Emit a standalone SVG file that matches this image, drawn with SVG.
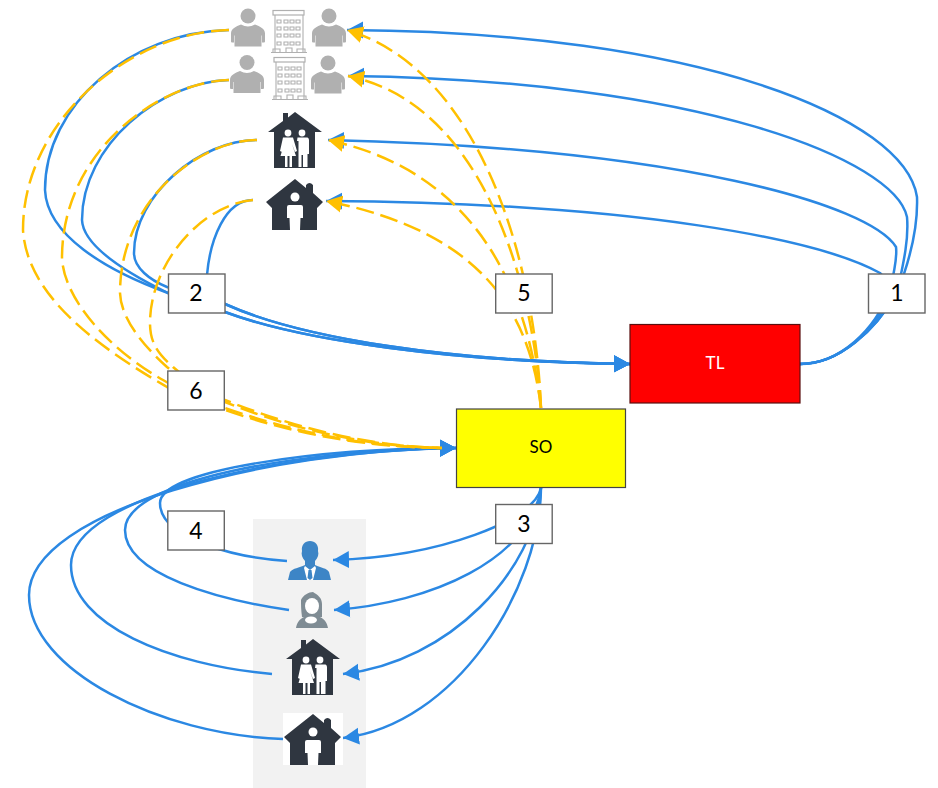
<svg xmlns="http://www.w3.org/2000/svg" width="938" height="788" viewBox="0 0 938 788">
<style>
.b{fill:none;stroke:#2b88e3;stroke-width:2.5}
.g{fill:none;stroke:#ffc000;stroke-width:2.5;stroke-dasharray:18 7}
.box{fill:#fff;stroke:#666;stroke-width:1.4}
.num{font:23px Lato,"Liberation Sans",sans-serif;fill:#000;text-anchor:middle}
.lbl{font:17px Lato,"Liberation Sans",sans-serif;text-anchor:middle}
.gray{fill:#b0b0b0}
.dark{fill:#2f3640}
.w{fill:#fff}
.win{fill:none;stroke:#b0b0b0;stroke-width:1.1}
</style>
<defs>
<marker id="ab" markerUnits="userSpaceOnUse" markerWidth="17" markerHeight="18" refX="16" refY="9" orient="auto"><path d="M0 0.5L16 9L0 17.5Z" fill="#2b88e3"/></marker>
<marker id="ag" markerUnits="userSpaceOnUse" markerWidth="17" markerHeight="18" refX="16" refY="9" orient="auto"><path d="M0 0.5L16 9L0 17.5Z" fill="#ffc000"/></marker>
<symbol id="person" overflow="visible"><circle cx="17" cy="7.5" r="7.5" class="gray"/><path class="gray" d="M0 33V25C0 20 5 18 10 16Q17 20 24 16C29 18 34 20 34 25V33Q34 34 33 34H31V27H30.5V38H3.5V27H3V34H1Q0 34 0 33Z"/></symbol>
<symbol id="bld" overflow="visible"><rect x="2" y="0.5" width="31" height="4.5" fill="#fff" stroke="#b0b0b0" stroke-width="1.2"/><path class="win" d="M4 5V42M32 5V42M0 42.5H36"/>
<path class="win" d="M6 13V10H10V13ZM13 13V10H17V13ZM19 13V10H23V13ZM25 13V10H29V13ZM6 20V17H10V20ZM13 20V17H17V20ZM19 20V17H23V20ZM25 20V17H29V20ZM6 27V24H10V27ZM13 27V24H17V27ZM19 27V24H23V27ZM25 27V24H29V27ZM6 35V32H10V35ZM13 35V32H17V35ZM19 35V32H23V35ZM25 35V32H29V35Z"/><path class="win" d="M2 42V39H9V42M15 42V38H21V42M26 42V39H34V42"/></symbol>
<symbol id="couple" overflow="visible"><path class="dark" d="M0 21L15 10V2H20V6.5L27 1L54 21H47V57H6V21Z"/>
<circle cx="20" cy="22" r="3.4" class="w"/><circle cx="34" cy="22" r="3.4" class="w"/>
<path class="w" d="M15 26.5H25L29 40L27 41L24 33L28 45H24V56H21.5V45H19.5V56H17V45H12.5L16 33L14 41L12 40Z"/><path class="w" d="M29.5 26.5H39.5Q41 27 41 29V43H39.5V56H35V44H33.5V56H30.5V30H29Z"/></symbol>
<symbol id="single" overflow="visible"><path class="dark" d="M0 23L29 0L40 9V6Q43.5 2 47 6V14L57 23L51 29V51H6V29Z"/>
<circle cx="29" cy="18" r="4.5" class="w"/><path class="w" d="M21 28Q21 26 23 26H35Q37 26 37 28V39H34.5L34 51H24L23.5 39H21Z"/></symbol>
</defs>

<rect id="panel" x="253" y="519" width="113" height="269" fill="#f2f2f2"/>

<g id="connectors">
<path class="b" marker-end="url(#ab)" d="M800 364C840 364 875 330 897 293C910 260 918 225 917 197C905 118 700 32 347 30"/>
<path class="b" marker-end="url(#ab)" d="M800 364C840 364 875 330 897 293C903 265 909 240 907 217C895 160 700 80 348 76"/>
<path class="b" marker-end="url(#ab)" d="M800 364C840 364 875 330 890 290C896 265 897 255 896 247C870 205 680 148 328 140"/>
<path class="b" marker-end="url(#ab)" d="M800 364C840 364 875 330 892 293C890 285 885 278 880 273C820 240 640 203 326 201"/>
<path class="b" marker-end="url(#ab)" d="M229 30C130 32 45 105 45 190C47 235 105 270 168 293C190 302 205 305 225 312C300 340 450 362 630 364"/>
<path class="b" marker-end="url(#ab)" d="M229 80C160 82 82 145 82 220C83 245 125 272 168 293C190 302 205 306 225 312C300 340 450 362 630 364"/>
<path class="b" marker-end="url(#ab)" d="M257 140C200 140 134 195 134 253C134 268 150 280 167 287C190 295 205 297 225 304C300 338 450 362 630 364"/>
<path class="b" marker-end="url(#ab)" d="M253 200C225 200 210 240 207 275C208 285 215 298 225 304C300 338 450 362 630 364"/>
<path class="b" marker-end="url(#ab)" d="M541 488C535 520 440 557 333 560"/>
<path class="b" marker-end="url(#ab)" d="M541 488C530 560 430 603 334 610"/>
<path class="b" marker-end="url(#ab)" d="M541 488C535 570 450 662 343 674"/>
<path class="b" marker-end="url(#ab)" d="M541 488C540 590 455 725 343 738"/>
<path class="b" marker-end="url(#ab)" d="M287 561C240 558 160 540 160 503C160 470 320 448 456 448"/>
<path class="b" marker-end="url(#ab)" d="M289 610C220 600 125 575 125 530C125 480 300 450 456 448"/>
<path class="b" marker-end="url(#ab)" d="M272 674C170 665 71 625 71 565C71 495 290 450 456 448"/>
<path class="b" marker-end="url(#ab)" d="M283 739C160 735 29 670 29 595C29 510 270 450 456 448"/>
<path class="g" d="M229 30C130 32 23 120 23 230C27 295 95 345 167 387C190 398 210 404 225 410C300 436 370 447 442 448"/>
<path class="g" d="M229 80C160 82 62 150 62 258C64 300 110 350 163 380C185 393 205 400 225 408C300 434 370 447 442 448"/>
<path class="g" d="M257 140C200 140 120 200 120 293C121 320 145 347 167 367C185 382 205 394 225 402C300 432 370 446 442 448"/>
<path class="g" d="M253 200C200 205 150 265 150 323C150 345 160 355 173 367C190 382 208 392 225 400C300 430 370 446 442 448"/>
<path class="g" marker-end="url(#ag)" d="M541 408C535 260 480 70 347 30"/>
<path class="g" marker-end="url(#ag)" d="M541 408C535 300 490 105 348 76"/>
<path class="g" marker-end="url(#ag)" d="M541 408C530 310 490 175 328 140"/>
<path class="g" marker-end="url(#ag)" d="M541 408C530 315 485 232 326 201"/>
</g>

<g id="n-top"><use href="#person" x="231" y="8.5"/><use href="#bld" x="271" y="10"/><use href="#person" x="312" y="8.5"/></g>
<g id="n-second"><use href="#person" x="230" y="55"/><use href="#bld" x="272" y="57"/><use href="#person" x="311" y="55.5"/></g>
<g id="n-couple-top"><use href="#couple" x="268" y="111"/></g>
<g id="n-single-top"><use href="#single" x="266" y="179"/></g>

<g id="n-man"><path fill="#3d85c6" d="M288 580L290 572C293 568 299 568 305 565V561C302 558 301 554 302 551C301 545 305 541 310 541C315 541 319 545 318 551C319 554 318 558 315 561V565C321 568 327 568 329 572L331 580Z"/><path class="w" d="M305 566L310 570L315 566L316 568L313 580H307L304 568Z"/><path fill="#3d85c6" d="M308.5 570H311.5L312.5 578L310 580L307.5 578Z"/></g>
<g id="n-woman"><path fill="#7f8c94" d="M296 628C297 622 300 619 304 617H302C301 610 301 605 301 600C303 595 309 592 313 592C318 595 322 598 322 604V617H320C324 619 327 622 328 628Z"/><ellipse cx="312" cy="606" rx="7" ry="8" class="w"/><ellipse cx="311" cy="620" rx="6" ry="3.5" class="w"/></g>
<g id="n-couple"><use href="#couple" x="286" y="638"/></g>
<g id="n-single"><rect x="283" y="713" width="60" height="52" class="w"/><use href="#single" x="284" y="714"/></g>

<g id="n-tl"><rect x="630" y="324.5" width="170" height="78.5" fill="#ff0000" stroke="#5a0f0f" stroke-width="1.2"/><text class="lbl" x="715" y="369" fill="#fff">TL</text></g>
<g id="n-so"><rect x="456.5" y="409" width="169" height="78.5" fill="#ffff00" stroke="#444" stroke-width="1.2"/><text class="lbl" x="541" y="453" fill="#000">SO</text></g>
<g id="n-1"><rect class="box" x="868.5" y="274" width="56.5" height="39"/><text class="num" x="897" y="301">1</text></g>
<g id="n-2"><rect class="box" x="168.5" y="274" width="56.5" height="39"/><text class="num" x="196" y="301">2</text></g>
<g id="n-3"><rect class="box" x="495.7" y="504.5" width="56.5" height="39"/><text class="num" x="524" y="532">3</text></g>
<g id="n-4"><rect class="box" x="167.8" y="511" width="56.5" height="39"/><text class="num" x="196" y="539">4</text></g>
<g id="n-5"><rect class="box" x="495.7" y="274" width="56.5" height="39"/><text class="num" x="524" y="301">5</text></g>
<g id="n-6"><rect class="box" x="167.8" y="371" width="56.5" height="39"/><text class="num" x="196" y="399">6</text></g>
</svg>
